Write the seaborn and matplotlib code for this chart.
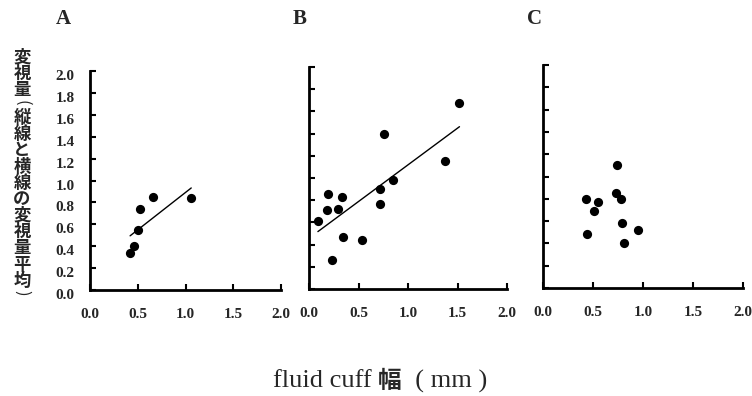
import matplotlib
matplotlib.use("Agg")
import matplotlib.pyplot as plt
import matplotlib.transforms as mtransforms
import seaborn as sns
import pandas as pd

# ---- data ----
a_x = [0.42, 0.46, 0.50, 0.52, 0.66, 1.06]
a_y = [0.34, 0.40, 0.55, 0.74, 0.85, 0.84]

b_x = [0.09, 0.19, 0.18, 0.23, 0.29, 0.33, 0.34, 0.54, 0.72, 0.72, 0.76, 0.85, 1.37, 1.52]
b_y = [0.61, 0.86, 0.71, 0.26, 0.72, 0.83, 0.47, 0.44, 0.90, 0.77, 1.40, 0.98, 1.15, 1.68]

c_x = [0.43, 0.44, 0.51, 0.55, 0.73, 0.74, 0.78, 0.79, 0.81, 0.95]
c_y = [0.80, 0.48, 0.69, 0.77, 0.85, 1.10, 0.80, 0.58, 0.40, 0.52]

panel_letters = ["A", "B", "C"]
x_ticks = [0.0, 0.5, 1.0, 1.5, 2.0]
x_tick_labels = ["0.0", "0.5", "1.0", "1.5", "2.0"]
y_ticks = [0.0, 0.2, 0.4, 0.6, 0.8, 1.0, 1.2, 1.4, 1.6, 1.8, 2.0]
y_tick_labels = ["0.0", "0.2", "0.4", "0.6", "0.8", "1.0", "1.2", "1.4", "1.6", "1.8", "2.0"]
y_label_chars = list("変視量（縦線と横線の変視量平均）")
x_label_parts = ["fluid cuff ", "幅", "  ( mm )"]

sns.set_theme(style="ticks")
plt.rcParams["font.family"] = ["Liberation Serif", "Noto Sans CJK JP"]

W, H = 752, 396
fig = plt.figure(figsize=(W / 100, H / 100), dpi=100)

def rect(left, right, top, bottom):
    return [left / W, 1 - bottom / H, (right - left) / W, (bottom - top) / H]

ax_a = fig.add_axes(rect(90, 281, 71, 290))
ax_b = fig.add_axes(rect(309, 507, 67, 289))
ax_c = fig.add_axes(rect(543, 743, 65, 288))

df_a = pd.DataFrame({"x": a_x, "y": a_y})
df_b = pd.DataFrame({"x": b_x, "y": b_y})
df_c = pd.DataFrame({"x": c_x, "y": c_y})

scat = dict(s=44, color="black", alpha=1, linewidths=0)
line = dict(color="black", linewidth=1.0)

sns.regplot(data=df_a, x="x", y="y", ax=ax_a, ci=None, truncate=True,
            scatter_kws=scat, line_kws=line)
sns.regplot(data=df_b, x="x", y="y", ax=ax_b, ci=None, truncate=True,
            scatter_kws=scat, line_kws=line)
sns.scatterplot(data=df_c, x="x", y="y", ax=ax_c, s=44, color="black",
                edgecolor="black", linewidth=0)

offset = mtransforms.ScaledTranslation(0, -4 / 100, fig.dpi_scale_trans)
for i, ax in enumerate([ax_a, ax_b, ax_c]):
    ax.set_xlim(0, 2.0)
    ax.set_ylim(0, 2.0)
    sns.despine(ax=ax)
    for side in ["left", "bottom"]:
        ax.spines[side].set_linewidth(2.0)
        ax.spines[side].set_color("black")
    ax.set_xticks(x_ticks)
    ax.set_xticklabels(x_tick_labels)
    ax.set_yticks(y_ticks)
    ax.tick_params(axis="both", direction="in", length=4, width=1.5,
                   color="black", labelsize=11)
    ax.tick_params(axis="x", pad=13)
    ax.tick_params(axis="y", pad=11)
    for lbl in ax.get_xticklabels():
        lbl.set_fontweight("bold")
    if i == 0:
        ax.set_yticklabels(y_tick_labels)
        for lbl in ax.get_yticklabels():
            lbl.set_fontweight("bold")
            lbl.set_transform(lbl.get_transform() + offset)
    else:
        ax.set_yticklabels([])
    ax.set_xlabel("")
    ax.set_ylabel("")
    ax.set_facecolor("white")

# panel letters
for letter, xpix in zip(panel_letters, [63, 300, 535]):
    fig.text(xpix / W, 1 - 19 / H, letter, fontsize=15, fontweight="bold",
             ha="center", va="center", family=["Liberation Serif"])

# vertical y label (stacked characters, brackets turned for vertical writing)
ypos = 57.5
for ch in y_label_chars:
    is_paren = ch in "（）"
    if is_paren:
        ypos += -4.0
        fig.text(22 / W, 1 - ypos / H, "(" if ch == "（" else ")",
                 fontsize=12, rotation=-90, ha="center", va="center",
                 family=["Noto Sans CJK JP"])
        ypos += 15.5
    else:
        fig.text(22 / W, 1 - ypos / H, ch, fontsize=12.5, fontweight="bold",
                 ha="center", va="center", family=["Noto Sans CJK JP"])
        ypos += 16.3

# x label: serif text with a gothic CJK character
t1 = fig.text(273 / W, 1 - 381 / H, x_label_parts[0], fontsize=19,
              ha="left", va="center", family=["Liberation Serif"])
fig.canvas.draw()
bb = t1.get_window_extent()
t2 = fig.text(bb.x1 / W, 1 - 381 / H, x_label_parts[1], fontsize=17,
              fontweight="bold", ha="left", va="center",
              family=["Noto Sans CJK JP"])
fig.canvas.draw()
bb2 = t2.get_window_extent()
fig.text(bb2.x1 / W, 1 - 381 / H, x_label_parts[2], fontsize=19,
         ha="left", va="center", family=["Liberation Serif"])

fig.savefig("out.png", dpi=100, facecolor="white")
